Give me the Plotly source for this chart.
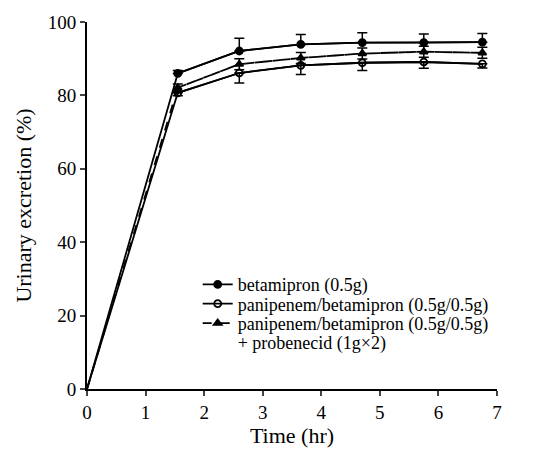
import plotly.graph_objects as go

# Data
time_hr = [0, 1.55, 2.6, 3.65, 4.7, 5.75, 6.75]
betamipron = [0, 86.0, 92.1, 93.9, 94.4, 94.4, 94.5]
betamipron_err = [0, 0.8, 3.5, 2.7, 2.7, 2.3, 2.4]
pani_beta = [0, 80.7, 86.1, 88.2, 88.9, 89.1, 88.6]
pani_beta_err = [0, 0.8, 2.7, 2.5, 2.1, 1.7, 1.1]
pani_beta_prob = [0, 82.1, 88.5, 90.2, 91.4, 91.9, 91.6]
pani_beta_prob_err = [0, 1.0, 1.5, 1.5, 1.5, 1.5, 1.5]

names = [
    "betamipron (0.5g)",
    "panipenem/betamipron (0.5g/0.5g)",
    "panipenem/betamipron (0.5g/0.5g)",
    "+ probenecid (1g\u00d72)",
]
x_ticks = [0, 1, 2, 3, 4, 5, 6, 7]
y_ticks = [0, 20, 40, 60, 80, 100]

FONT = "Liberation Serif, Times New Roman, Times, serif"

series = [
    dict(y=betamipron, plus=betamipron_err, minus=[0] * len(betamipron_err),
         symbol="circle", dash="solid", name=names[0], legend="legend"),
    dict(y=pani_beta, plus=[0] * len(pani_beta_err), minus=pani_beta_err,
         symbol="circle-open", dash="solid", name=names[1], legend="legend2"),
    dict(y=pani_beta_prob, plus=pani_beta_prob_err, minus=pani_beta_prob_err,
         symbol="triangle-up", dash="dash", name=names[2], legend="legend3"),
]

fig = go.Figure()
for s in series:
    # line from origin (no marker at origin)
    fig.add_trace(go.Scatter(
        x=time_hr, y=s["y"], mode="lines", showlegend=False, hoverinfo="skip",
        line=dict(color="black", width=1.8, dash=s["dash"]),
    ))
    fig.add_trace(go.Scatter(
        x=time_hr[1:], y=s["y"][1:], name=s["name"], legend=s["legend"],
        mode="lines+markers",
        line=dict(color="black", width=1.8, dash=s["dash"]),
        marker=dict(symbol=s["symbol"], size=7, color="black",
                    line=dict(width=1.8, color="black")),
        error_y=dict(type="data", symmetric=False, array=s["plus"][1:],
                     arrayminus=s["minus"][1:], color="black",
                     thickness=1.5, width=5),
    ))
fig.add_trace(go.Scatter(
    x=[None], y=[None], name=names[3], legend="legend4", mode="lines",
    line=dict(color="rgba(0,0,0,0)", width=0),
))

leg = dict(xanchor="left", yanchor="middle", bgcolor="rgba(0,0,0,0)",
           font=dict(family=FONT, size=18, color="black"))
fig.update_layout(
    width=539, height=456,
    margin=dict(l=87, r=42, t=12, b=64),
    paper_bgcolor="white", plot_bgcolor="white",
    font=dict(family=FONT, size=18, color="black"),
    showlegend=True,
    legend=dict(x=0.27, y=(392 - 284) / 380, **leg),
    legend2=dict(x=0.27, y=(392 - 304) / 380, **leg),
    legend3=dict(x=0.27, y=(392 - 324) / 380, **leg),
    legend4=dict(x=0.27, y=(392 - 344) / 380, **leg),
    xaxis=dict(range=[0, 7], tickvals=x_ticks, showline=True, linecolor="black",
               linewidth=1.8, ticks="outside", ticklen=5, tickwidth=1.5,
               showgrid=False, zeroline=False, tickfont=dict(size=19),
               title=dict(text="Time (hr)", standoff=6)),
    yaxis=dict(range=[0, 100], tickvals=y_ticks, showline=True, linecolor="black",
               linewidth=1.8, ticks="outside", ticklen=5, tickwidth=1.5,
               showgrid=False, zeroline=False, tickfont=dict(size=19),
               title=dict(text="Urinary excretion (%)", standoff=10)),
)

fig.write_html("out.html")
